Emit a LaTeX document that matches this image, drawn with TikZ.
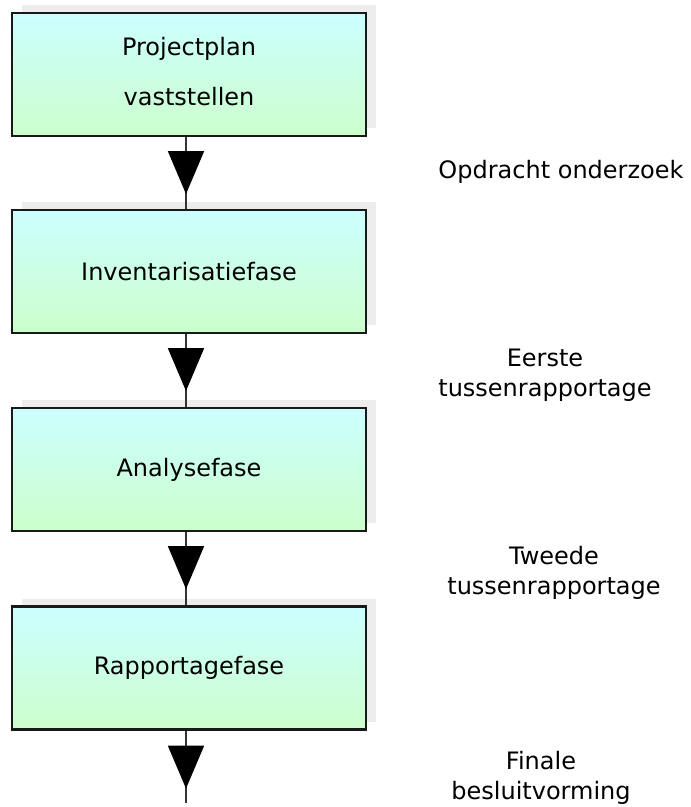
\documentclass[tikz,border=0pt]{standalone}
\usepackage{fontspec}
\setmainfont{DejaVu Sans}
\usetikzlibrary{arrows.meta,shadows,decorations.markings}

\definecolor{phasetop}{RGB}{204,255,255}
\definecolor{phasebottom}{RGB}{204,255,204}

\tikzset{
  phase/.style={draw=black!90, line width=1.6pt, top color=phasetop, bottom color=phasebottom,
    minimum width=265.5pt, minimum height=92.25pt, inner sep=0pt, align=center,
    general shadow={fill=black!7, shadow xshift=7.5pt, shadow yshift=6pt}},
  flow/.style={draw=black!80, line width=1.4pt, postaction={decorate},
    decoration={markings, mark=at position #1 with {\arrow{Triangle[length=32.25pt,width=27pt,color=black]}}}},
  milestone/.style={align=center},
}

\begin{document}
\begin{tikzpicture}[x=0.75pt,y=0.75pt,yscale=-1,xscale=1,
  every node/.style={font=\fontsize{18}{22.5}\selectfont}]
\useasboundingbox (0,0) rectangle (690,807);

% Phases
\node [phase] (plan) at (189,74.5) {\raisebox{5pt}{\begin{tabular}{@{}c@{}}Projectplan\\[15pt]vaststellen\end{tabular}}};
\node [phase] (inv) at (189,271.5) {Inventarisatiefase};
\node [phase] (ana) at (189,469.5) {Analysefase};
\node [phase] (rap) at (189,668) {Rapportagefase};
\coordinate (einde) at (186,803);

% Flow lines
\draw [flow=42.75pt] ([xshift=-2.25pt]plan.south) -- ([xshift=-2.25pt]inv.north);
\draw [flow=42.75pt] ([xshift=-2.25pt]inv.south) -- ([xshift=-2.25pt]ana.north);
\draw [flow=42.75pt] ([xshift=-2.25pt]ana.south) -- ([xshift=-2.25pt]rap.north);
\draw [flow=43.5pt] ([xshift=-2.25pt]rap.south) -- (einde);

% Text Node
\node [milestone] (opdracht) at (561,172) {Opdracht onderzoek};
% Text Node
\node [milestone] (eerste) at (545,375) {Eerste\\tussenrapportage};
% Text Node
\node [milestone] (tweede) at (554,573) {Tweede\\tussenrapportage};
% Text Node
\node [milestone] (finale) at (541,778) {Finale\\besluitvorming};

\end{tikzpicture}
\end{document}
